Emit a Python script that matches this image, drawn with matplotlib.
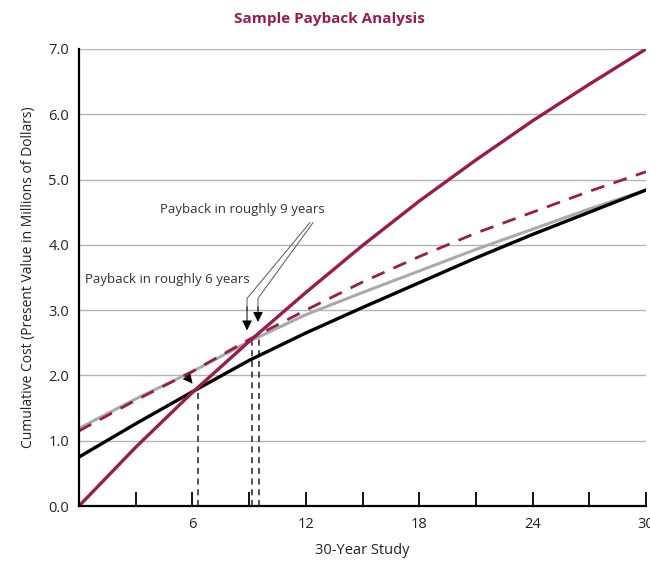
import numpy as np
import matplotlib.pyplot as plt

plt.rcParams['font.family'] = ['Open Sans', 'DejaVu Sans']

CRIMSON = "#9b1b4b"

# Data (cumulative cost, millions of dollars)
years = [0, 3, 6, 9, 12, 15, 18, 21, 24, 27, 30]
red_solid = [0.0, 0.90, 1.74, 2.52, 3.27, 3.99, 4.67, 5.30, 5.90, 6.46, 7.0]
red_dashed = [1.15, 1.62, 2.06, 2.55, 3.00, 3.43, 3.82, 4.18, 4.50, 4.82, 5.12]
gray_line = [1.19, 1.64, 2.06, 2.52, 2.93, 3.27, 3.60, 3.93, 4.24, 4.55, 4.84]
black_line = [0.75, 1.26, 1.75, 2.23, 2.65, 3.04, 3.42, 3.80, 4.16, 4.50, 4.84]

# Payback crossing points
payback_years = [6.27, 9.14, 9.54]
payback_levels = [1.78, 2.55, 2.66]

x_ticks = list(range(0, 31, 3))
x_labels = ["" if t % 6 or t == 0 else str(t) for t in x_ticks]
y_ticks = [0, 1, 2, 3, 4, 5, 6, 7]

fig = plt.figure(figsize=(6.5, 5.62), dpi=100)
ax = fig.add_axes([79 / 650, 1 - 506 / 562, 567 / 650, 457 / 562])

# grid
for yv in y_ticks[1:]:
    ax.axhline(yv, color="#b4b4b4", lw=1.0, zorder=1)

# vertical dashed drops
for px, py in zip(payback_years, payback_levels):
    ax.plot([px, px], [0, py], color="#222222", lw=1.1, dashes=(4, 3), zorder=2)

ax.plot(years, gray_line, color="#aaaaaa", lw=2.2, zorder=3)
ax.plot(years, black_line, color="black", lw=2.4, zorder=4)
ax.plot(years, red_dashed, color=CRIMSON, lw=2.0, dashes=(5, 3.5), zorder=5)
ax.plot(years, red_solid, color=CRIMSON, lw=2.4, zorder=6)

# annotations
ax.text(0.32, 3.47, "Payback in roughly 6 years", fontsize=9.5, color="#333333",
        va="center", ha="left")
ax.text(4.3, 4.54, "Payback in roughly 9 years", fontsize=9.5, color="#333333",
        va="center", ha="left")

ax.annotate("", xy=(6.1, 1.84), xytext=(5.6, 2.02),
            arrowprops=dict(arrowstyle="-|>", color="black", lw=0.6,
                            mutation_scale=15), zorder=7)

for x_top, x_mid, tip in [(12.22, 8.89, 2.69), (12.38, 9.47, 2.82)]:
    ax.plot([x_top, x_mid, x_mid], [4.34, 3.18, 3.0], color="#555555", lw=0.7, zorder=7)
    ax.annotate("", xy=(x_mid, tip), xytext=(x_mid, 3.05),
                arrowprops=dict(arrowstyle="-|>", color="black", lw=0.7,
                                mutation_scale=15, shrinkA=0, shrinkB=0), zorder=7)

ax.set_xlim(0, 30)
ax.set_ylim(0, 7)
ax.set_xticks(x_ticks)
ax.set_xticklabels(x_labels, fontsize=10.5, color="#222222")
ax.set_yticks(y_ticks)
ax.set_yticklabels([f"{v:.1f}" for v in y_ticks], fontsize=10.5, color="#222222")
ax.tick_params(axis="x", direction="in", length=10, width=1.3, pad=8)
ax.tick_params(axis="y", length=0, pad=7)

for side in ["top", "right"]:
    ax.spines[side].set_visible(False)
for side in ["left", "bottom"]:
    ax.spines[side].set_linewidth(1.6)
    ax.spines[side].set_zorder(8)

ax.set_xlabel("30-Year Study", fontsize=10.5, color="#222222", labelpad=8)
ax.set_ylabel("Cumulative Cost (Present Value in Millions of Dollars)", fontsize=10,
              color="#222222", labelpad=9)
fig.text(0.507, 0.967, "Sample Payback Analysis", fontsize=11, fontweight="bold",
         color=CRIMSON, ha="center", va="center")

fig.savefig("out.png", dpi=100)
